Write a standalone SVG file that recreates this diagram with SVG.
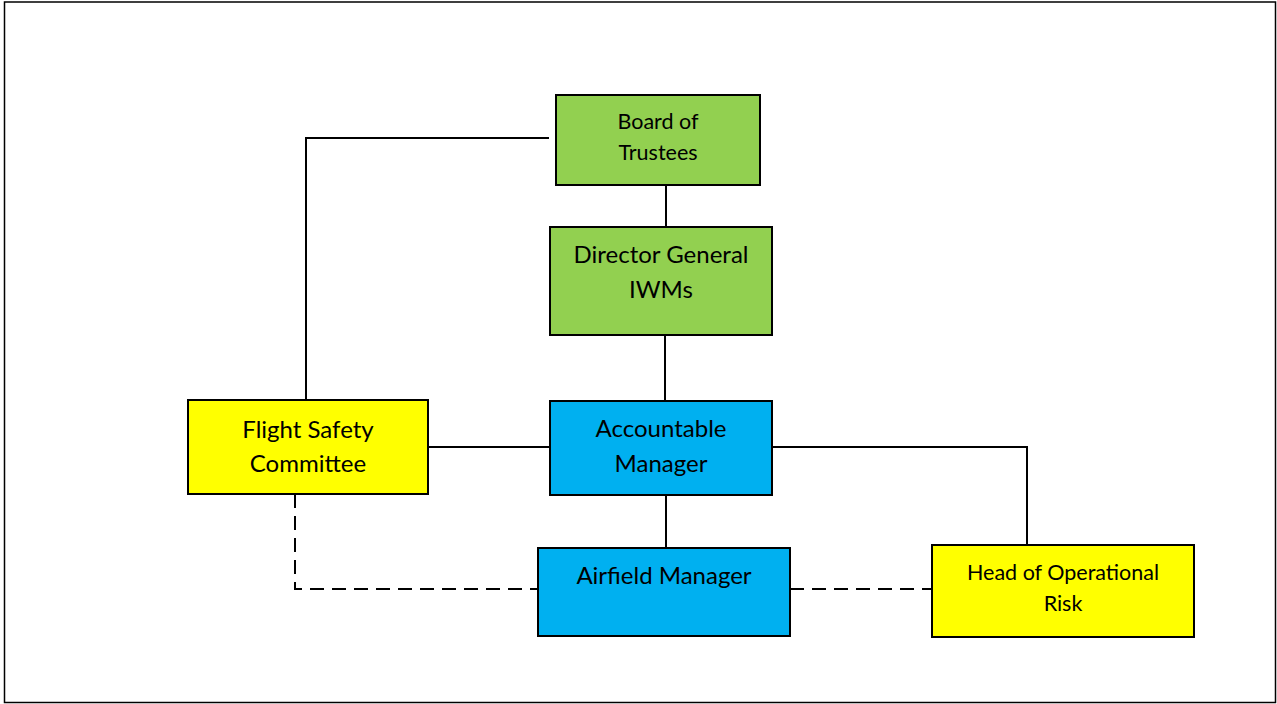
<svg xmlns="http://www.w3.org/2000/svg" width="1277" height="704" viewBox="0 0 1277 704">
<style>
.box{stroke:#000;stroke-width:2}
.green{fill:#92d050}
.blue{fill:#00b0f0}
.yellow{fill:#ffff00}
.t{font-family:Lato,"Open Sans","Liberation Sans",sans-serif;fill:#000;text-anchor:middle}
.lg{font-size:24px}
.sm{font-size:21.5px}
.ln{stroke:#000;stroke-width:2;fill:none}
.dash{stroke:#000;stroke-width:2;fill:none;stroke-dasharray:14 8}
</style>
<rect x="0" y="0" width="1277" height="704" fill="#fff"/>
<rect x="4.5" y="2" width="1271" height="700.5" fill="none" stroke="#000" stroke-width="1.5"/>
<g id="connectors">
<polyline class="ln" points="549,138 306,138 306,400"/>
<line class="ln" x1="666" y1="185" x2="666" y2="227"/>
<line class="ln" x1="665" y1="335" x2="665" y2="401"/>
<line class="ln" x1="428" y1="447" x2="550" y2="447"/>
<polyline class="ln" points="772,447 1027,447 1027,545"/>
<line class="ln" x1="666" y1="495" x2="666" y2="548"/>
<polyline class="dash" points="295,494 295,589 538,589"/>
<line class="dash" x1="790" y1="589" x2="932" y2="589"/>
</g>
<g id="board">
<rect class="box green" x="556" y="95" width="204" height="90"/>
<text class="t sm" x="658" y="129">Board of</text>
<text class="t sm" x="658" y="160">Trustees</text>
</g>
<g id="director">
<rect class="box green" x="550" y="227" width="222" height="108"/>
<text class="t lg" x="661" y="263">Director General</text>
<text class="t lg" x="661" y="298">IWMs</text>
</g>
<g id="fsc">
<rect class="box yellow" x="188" y="400" width="240" height="94"/>
<text class="t lg" x="308" y="438">Flight Safety</text>
<text class="t lg" x="308" y="472">Committee</text>
</g>
<g id="accountable">
<rect class="box blue" x="550" y="401" width="222" height="94"/>
<text class="t lg" x="661" y="437">Accountable</text>
<text class="t lg" x="661" y="472">Manager</text>
</g>
<g id="airfield">
<rect class="box blue" x="538" y="548" width="252" height="88"/>
<text class="t lg" x="664" y="584">Airfield Manager</text>
</g>
<g id="hor">
<rect class="box yellow" x="932" y="545" width="262" height="92"/>
<text class="t sm" x="1063" y="580">Head of Operational</text>
<text class="t sm" x="1063" y="611">Risk</text>
</g>
</svg>
